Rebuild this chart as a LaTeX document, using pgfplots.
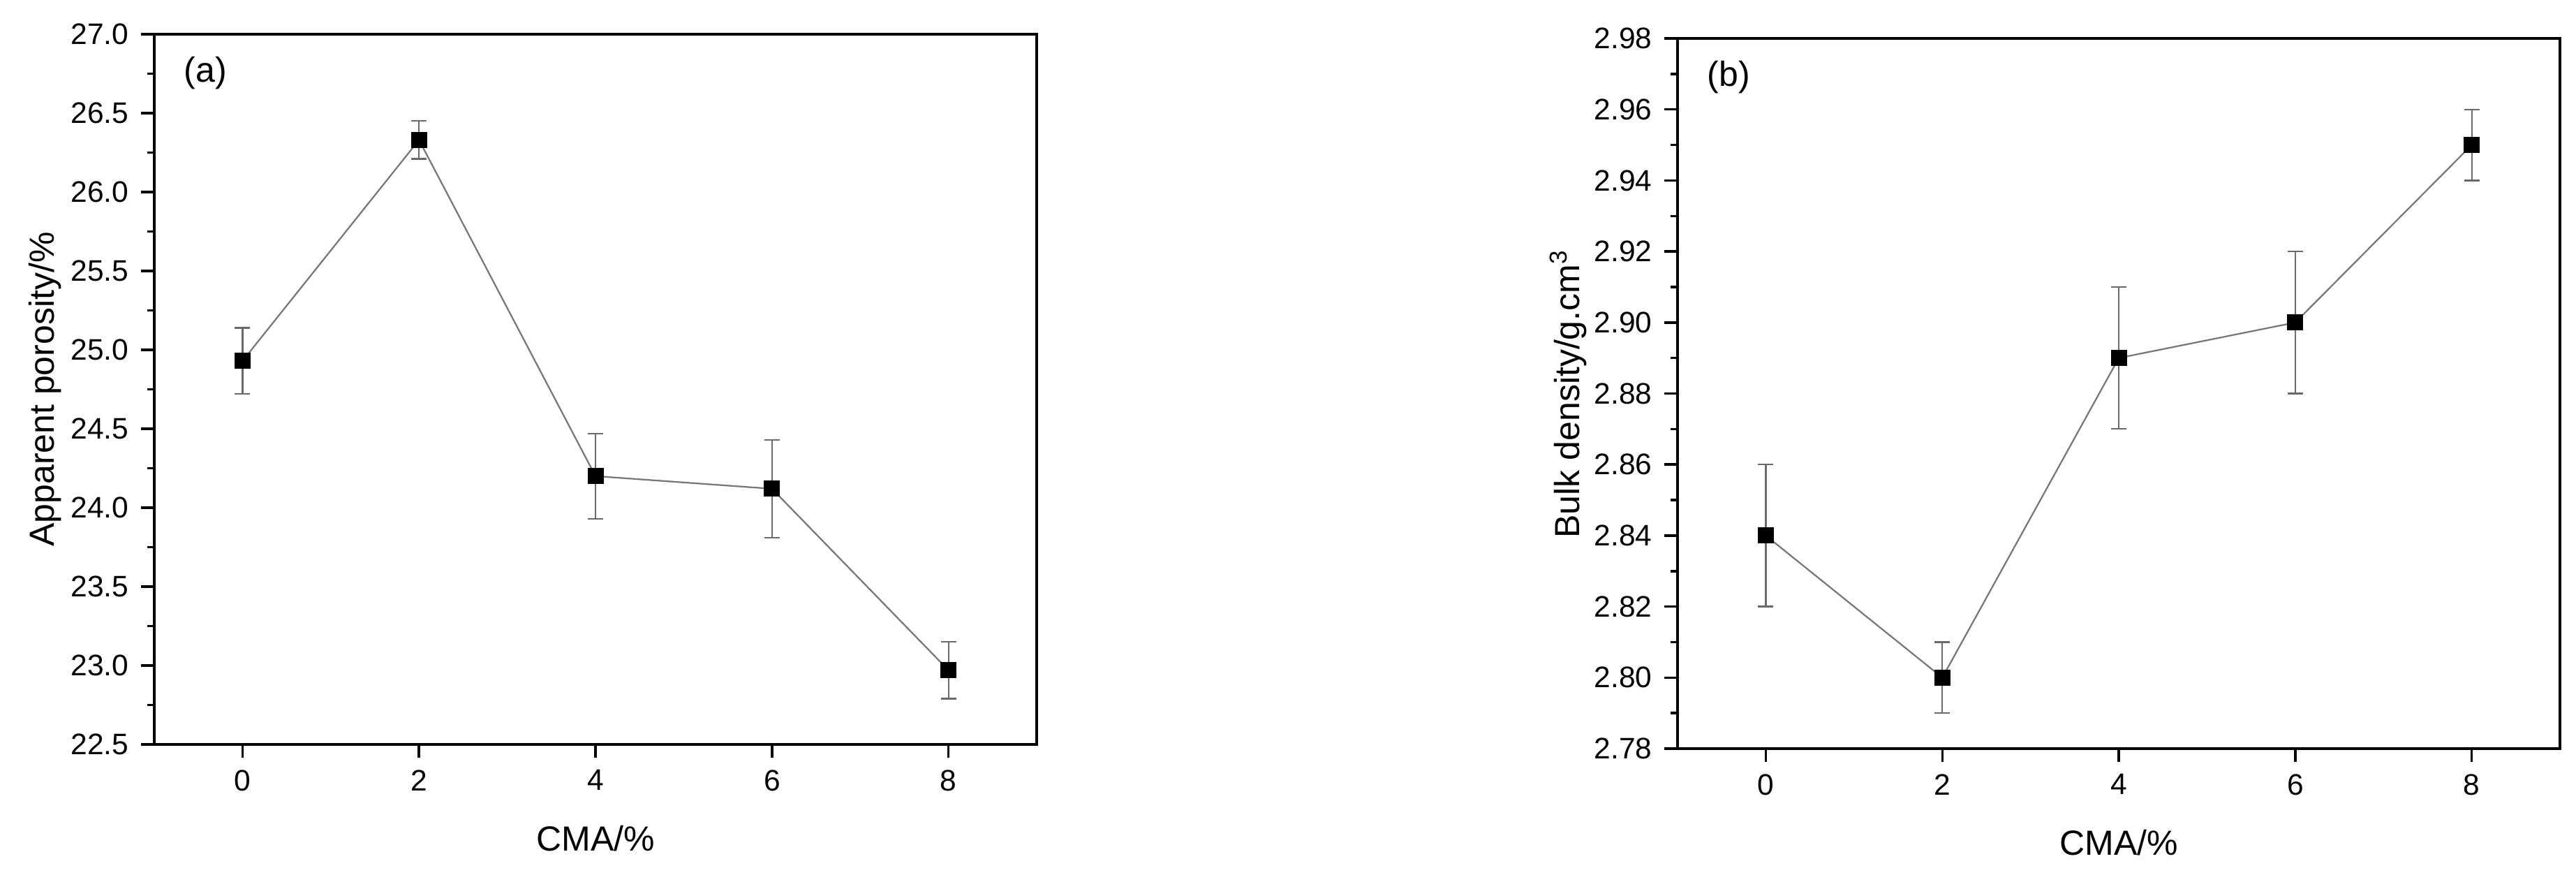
\documentclass[border=0pt]{standalone}
\usepackage{fontspec}
\setmainfont{Liberation Sans}
\usepackage{pgfplots}
\pgfplotsset{compat=1.18}

\definecolor{cLine}{HTML}{777777}
\definecolor{cErr}{HTML}{6A6A6A}

\pgfplotsset{
  panel/.style={
    scale only axis, width=252.8pt, height=203.4pt,
    anchor=south west,
    xmin=-1, xmax=9, xtick={0,2,4,6,8},
    tick align=outside, xtick pos=bottom, ytick pos=left,
    minor y tick num=1,
    major tick length=3.8pt, minor tick length=2pt,
    axis line style={line width=0.7pt},
    every tick/.style={black, line width=0.7pt},
    font=\fontsize{10}{12}\selectfont,
    tick label style={font=\fontsize{8.5}{10}\selectfont},
    /pgf/number format/assume math mode=true,
    every axis x label/.style={at={(axis description cs:0.5,-0.132)},anchor=center},
    every axis y label/.style={at={(axis description cs:-0.124,0.5)},rotate=90,anchor=center},
    xlabel={CMA/\%},
  },
  series/.style={
    cLine, line width=0.45pt,
    mark=square*, mark size=2.2pt,
    mark options={black, fill=black, line width=0pt},
    error bars/.cd, y dir=both, y explicit,
    error bar style={cErr, line width=0.45pt},
    error mark options={rotate=90, mark size=2.2pt, cErr, line width=0.45pt},
  },
}

\begin{document}
\begin{tikzpicture}
\path[use as bounding box] (0,0) rectangle (738pt,252.4pt);

% (a) apparent porosity
\begin{axis}[panel, at={(44.2pt,39.2pt)},
  ymin=22.5, ymax=27.0, ytick={22.5,23,...,27},
  yticklabel style={/pgf/number format/.cd,fixed,fixed zerofill,precision=1},
  ylabel={Apparent porosity/\%}]
  \addplot[series] coordinates {
    (0,24.93) +- (0,0.21)
    (2,26.33) +- (0,0.12)
    (4,24.20) +- (0,0.27)
    (6,24.12) +- (0,0.31)
    (8,22.97) +- (0,0.18)
  };
  \node[anchor=west] at (axis description cs:0.02,0.945) {(a)};
\end{axis}

% (b) bulk density
\begin{axis}[panel, at={(480.6pt,38pt)},
  ymin=2.78, ymax=2.98, ytick={2.78,2.80,...,2.98},
  yticklabel style={/pgf/number format/.cd,fixed,fixed zerofill,precision=2},
  ylabel={Bulk density/g.cm\textsuperscript{3}}]
  \addplot[series] coordinates {
    (0,2.84) +- (0,0.02)
    (2,2.80) +- (0,0.01)
    (4,2.89) +- (0,0.02)
    (6,2.90) +- (0,0.02)
    (8,2.95) +- (0,0.01)
  };
  \node[anchor=west] at (axis description cs:0.02,0.945) {(b)};
\end{axis}
\end{tikzpicture}
\end{document}
